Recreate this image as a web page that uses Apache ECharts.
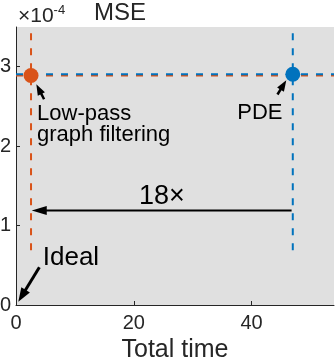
<!DOCTYPE html>
<html>
<head>
<meta charset="utf-8">
<script src="https://cdn.jsdelivr.net/npm/echarts@6/dist/echarts.min.js"></script>
<style>html,body{margin:0;padding:0;background:#fff}#c{width:336px;height:360px}</style>
</head>
<body>
<div id="c"></div>
<script>
// ---- data ----
const methods = ['Low-pass graph filtering', 'PDE'];
const totalTime = [2.55, 47.0];          // x values
const mse = [2.89, 2.905];               // y values (x 1e-4)
const refLineBottom = 0.69;              // bottom end of the vertical reference lines
const xTicks = [0, 20, 40];
const yTicks = [0, 1, 2, 3];
const xRange = [0, 54];
const yRange = [0, 3.5];
// annotation arrows (data coordinates)
const arrowFromX = [3.97, 4.77, 44.4, 46.8];
const arrowFromY = [0.475, 2.59, 2.65, 1.19];
const arrowToX   = [0.39, 3.45, 45.9, 2.67];
const arrowToY   = [0.04, 2.78, 2.83, 1.19];
// annotation texts (data coordinates)
const annoText = ['Low-pass\ngraph filtering', 'PDE', 'Ideal', '18\u00d7'];
const annoX = [3.57, 37.57, 4.54, 24.77];
const annoY = [2.273, 2.414, 0.588, 1.369];

const ORANGE = '#D95319', BLUE = '#0072BD', AX = '#262626';
const FONT = '"Liberation Sans", Arial, Helvetica, sans-serif';
const colors = [ORANGE, BLUE];
const annoSize = [22, 22, 26, 27];
const annoAlign = ['left', 'left', 'left', 'center'];
const headLen = [14, 11, 11, 15];
const headW = [10, 8, 8, 9];
const arrowW = [3, 2.5, 2.5, 2];

const series = [];
// horizontal dashed reference lines
for (let i = 0; i < 2; i++) {
  series.push({
    type: 'line', symbol: 'none', silent: true, z: 2,
    data: [[xRange[0], mse[i]], [xRange[1], mse[i]]],
    lineStyle: { color: colors[i], width: 2, type: [7, 8] }
  });
}
// vertical dashed reference lines
for (let i = 0; i < 2; i++) {
  series.push({
    type: 'line', symbol: 'none', silent: true, z: 3,
    data: [[totalTime[i], refLineBottom], [totalTime[i], yRange[1]]],
    lineStyle: { color: colors[i], width: 2, type: [7, 8] }
  });
}
// points
for (let i = 0; i < 2; i++) {
  series.push({
    type: 'scatter', name: methods[i], symbol: 'circle', symbolSize: 15, z: 5,
    data: [[totalTime[i], mse[i]]],
    itemStyle: { color: colors[i], opacity: 1 }
  });
}
// arrows
series.push({
  type: 'custom', z: 6, silent: true,
  data: arrowFromX.map((v, i) => [v, arrowFromY[i], arrowToX[i], arrowToY[i], i]),
  renderItem: function (params, api) {
    const i = api.value(4);
    const p0 = api.coord([api.value(0), api.value(1)]);
    const p1 = api.coord([api.value(2), api.value(3)]);
    const dx = p1[0] - p0[0], dy = p1[1] - p0[1];
    const L = Math.sqrt(dx * dx + dy * dy);
    const ux = dx / L, uy = dy / L;
    const hl = headLen[i], hw = headW[i];
    const bx = p1[0] - ux * hl, by = p1[1] - uy * hl;
    const nx = -uy, ny = ux;
    return {
      type: 'group',
      children: [
        { type: 'line', shape: { x1: p0[0], y1: p0[1], x2: bx + ux * 2, y2: by + uy * 2 },
          style: { stroke: '#000', lineWidth: arrowW[i] } },
        { type: 'polygon', shape: { points: [[p1[0], p1[1]], [bx + nx * hw / 2, by + ny * hw / 2], [bx - nx * hw / 2, by - ny * hw / 2]] },
          style: { fill: '#000' } }
      ]
    };
  }
});
// annotation texts
series.push({
  type: 'custom', z: 7, silent: true,
  data: annoX.map((v, i) => [v, annoY[i], i]),
  renderItem: function (params, api) {
    const i = api.value(2);
    const p = api.coord([api.value(0), api.value(1)]);
    return {
      type: 'text', x: p[0], y: p[1],
      style: { text: annoText[i], fill: '#000', fontSize: annoSize[i], fontFamily: FONT,
               lineHeight: 21, align: annoAlign[i], verticalAlign: 'middle' }
    };
  }
});

const chart = echarts.init(document.getElementById('c'), null, { renderer: 'canvas' });
chart.setOption({
  animation: false,
  backgroundColor: '#fff',
  textStyle: { fontFamily: FONT },
  grid: { left: 16, top: 27, right: 2, bottom: 55, show: true, backgroundColor: '#E0E0E0', borderWidth: 0,
          containLabel: false, outerBoundsMode: 'none' },
  xAxis: {
    type: 'value', min: xRange[0], max: xRange[1],
    axisLine: { show: true, onZero: false, lineStyle: { color: AX, width: 1 } },
    axisTick: { show: true, inside: true, length: 4, customValues: xTicks, lineStyle: { color: AX } },
    axisLabel: { customValues: xTicks, fontSize: 20, color: AX, margin: 8, fontFamily: FONT },
    splitLine: { show: false },
    name: 'Total time', nameLocation: 'middle', nameGap: 33,
    nameTextStyle: { fontSize: 25, color: AX, fontFamily: FONT }
  },
  yAxis: {
    type: 'value', min: yRange[0], max: yRange[1],
    axisLine: { show: true, onZero: false, lineStyle: { color: AX, width: 1 } },
    axisTick: { show: true, inside: true, length: 4, customValues: yTicks, lineStyle: { color: AX } },
    axisLabel: { customValues: yTicks, fontSize: 20, color: AX, margin: 5, fontFamily: FONT },
    splitLine: { show: false }
  },
  graphic: [
    { type: 'text', x: 120, y: 13, style: { text: 'MSE', fontSize: 24, fontFamily: FONT, fill: AX, align: 'center', verticalAlign: 'middle' } },
    { type: 'text', x: 18, y: 16, style: {
        text: '{a|\u00d710}{b|-4}', fill: AX, verticalAlign: 'middle', align: 'left',
        rich: { a: { fontSize: 21, fontFamily: FONT, fill: AX }, b: { fontSize: 13, fontFamily: FONT, fill: AX, verticalAlign: 'top', padding: [0, 0, 12, 0] } }
      } }
  ],
  series: series
});
</script>
</body>
</html>
